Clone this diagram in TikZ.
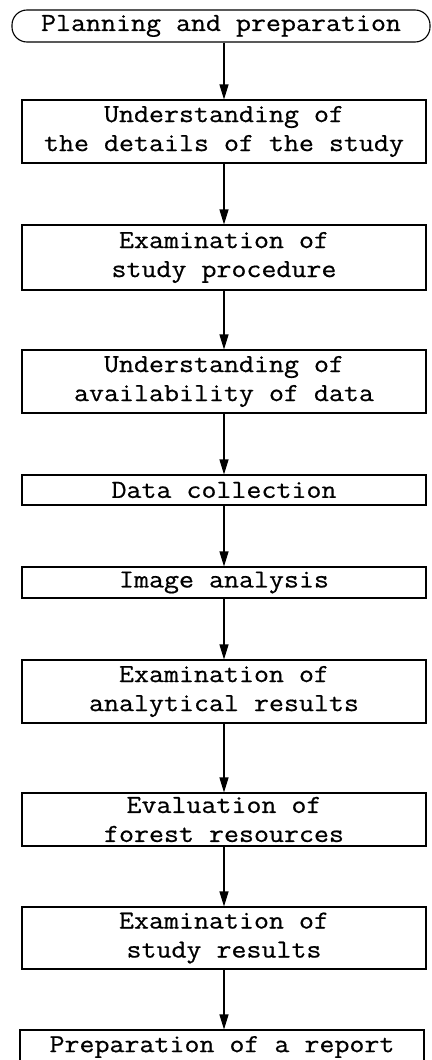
\documentclass[tikz,border=0pt]{standalone}
\usepackage{fontspec}
\setmonofont{Latin Modern Mono}[FakeStretch=1.12, FakeBold=0.6]
\usetikzlibrary{arrows.meta}
\begin{document}
\begin{tikzpicture}[x=1pt,y=-1pt,
  box/.style={draw, line width=1.1pt, minimum width=404pt, inner sep=0pt,
    align=center, font=\ttfamily\fontsize{26}{29}\selectfont},
  flow/.style={-{Triangle[width=9pt,length=15pt]}, line width=1.1pt}]
\clip (0,0) rectangle (431,1060);
\node[box, rounded corners=15pt, minimum width=418pt, minimum height=32pt] (plan) at (221,26) {Planning and preparation};
\node[box, minimum height=63pt] (details) at (224,131.5) {Understanding of\\the details of the study};
\node[box, minimum height=65pt] (proc) at (224,257.5) {Examination of\\study procedure};
\node[box, minimum height=63pt] (avail) at (224,381.5) {Understanding of\\availability of data};
\node[box, minimum height=30pt] (coll) at (224,490) {Data collection};
\node[box, minimum height=31pt] (image) at (224,582.5) {Image analysis};
\node[box, minimum height=63pt] (anal) at (224,691.5) {Examination of\\analytical results};
\node[box, minimum height=53pt] (forest) at (224,819.5) {Evaluation of\\forest resources};
\node[box, minimum height=62pt] (results) at (224,938) {Examination of\\study results};
\node[box, minimum height=34pt] (report) at (222,1047) {Preparation of a report};

\draw[flow] (plan.south -| details.north) -- (details.north);
\draw[flow] (details) -- (proc);
\draw[flow] (proc) -- (avail);
\draw[flow] (avail) -- (coll);
\draw[flow] (coll) -- (image);
\draw[flow] (image) -- (anal);
\draw[flow] (anal) -- (forest);
\draw[flow] (forest) -- (results);
\draw[flow] (results.south) -- (results.south |- report.north);
\end{tikzpicture}
\end{document}
